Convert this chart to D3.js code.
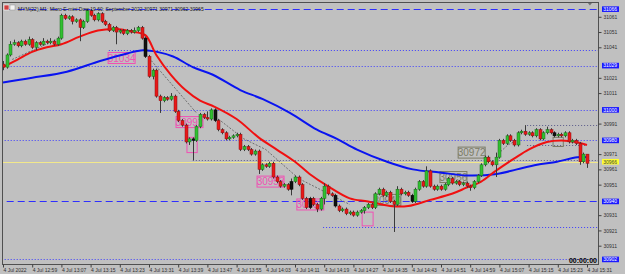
<!DOCTYPE html>
<html>
<head>
<meta charset="utf-8">
<script src="https://cdn.jsdelivr.net/npm/d3@7"></script>
<style>
    body { margin: 0; background: #c0c0c0; }
    svg { display: block; font-family: "Liberation Sans", Arial, sans-serif; }
</style>
</head>
<body>
<div class="canvas"></div>
<script>
// Data
const title = "MYM(22),M1: Micro E-mini Dow 19.60: September 2022  30971 30971 30962 30965";
const startTime = new Date(2022, 6, 4, 12, 51);

// one bar per minute from 12:51, [open, high, low, close]
const bars = [
    [31030,31032,31026,31028],[31028,31037,31027,31036],[31036,31045,31035,31043],[31043,31046,31042,31044],
    [31044,31045,31041,31042],[31042,31046,31041,31045],[31045,31046,31042,31043],[31043,31048,31042,31046],
    [31046,31047,31040,31041],[31041,31045,31039,31044],[31044,31045,31042,31043],[31043,31047,31042,31045],
    [31045,31046,31043,31044],[31044,31047,31043,31045],[31045,31046,31042,31043],[31043,31048,31042,31047],
    [31047,31063,31046,31062],[31062,31063,31059,31060],[31060,31062,31059,31061],[31061,31062,31056,31058],
    [31058,31060,31057,31059],[31059,31060,31045,31054],[31054,31059,31053,31058],[31058,31066,31057,31065],
    [31065,31066,31061,31062],[31062,31063,31058,31059],[31059,31064,31058,31063],[31063,31064,31057,31058],
    [31058,31059,31055,31056],[31056,31057,31051,31052],[31052,31055,31051,31054],[31054,31055,31043,31051],
    [31051,31053,31050,31052],[31052,31053,31049,31050],[31050,31053,31049,31052],[31052,31053,31050,31051],
    [31051,31054,31050,31052],[31052,31055,31051,31054],[31054,31055,31046,31047],[31047,31048,31034,31035],
    [31035,31036,31021,31022],[31022,31027,31020,31026],[31026,31027,31008,31009],[31009,31010,30998,31006],
    [31006,31009,31005,31008],[31008,31009,31006,31007],[31007,31011,31006,31009],[31009,31010,30998,30999],
    [30999,31000,30992,30993],[30993,30994,30989,30990],[30990,30991,30978,30979],[30979,30982,30977,30981],
    [30981,30982,30967,30980],[30980,30990,30979,30989],[30989,30998,30988,30997],[30997,30998,30994,30995],
    [30995,30999,30993,30994],[30994,31001,30993,31000],[31000,31001,30992,30993],[30993,30994,30986,30987],
    [30987,30988,30984,30985],[30985,30986,30980,30981],[30981,30983,30980,30982],[30982,30984,30981,30983],
    [30983,30985,30982,30984],[30984,30985,30973,30974],[30974,30977,30973,30976],[30976,30977,30973,30974],
    [30974,30975,30970,30971],[30971,30974,30970,30973],[30973,30974,30958,30961],[30961,30965,30960,30964],
    [30964,30965,30962,30963],[30963,30966,30962,30965],[30965,30966,30955,30956],[30956,30957,30952,30953],
    [30953,30954,30949,30950],[30950,30952,30949,30951],[30951,30952,30947,30948],[30948,30955,30944,30953],
    [30953,30957,30952,30956],[30956,30957,30950,30951],[30951,30952,30941,30942],[30942,30943,30935,30936],
    [30936,30943,30935,30942],[30942,30943,30937,30938],[30938,30939,30933,30935],[30935,30943,30934,30942],
    [30942,30952,30938,30950],[30950,30951,30944,30945],[30945,30946,30943,30944],[30944,30945,30936,30937],
    [30937,30938,30933,30934],[30934,30936,30933,30935],[30935,30936,30931,30932],[30932,30934,30931,30933],
    [30933,30934,30930,30931],[30931,30934,30930,30933],[30933,30935,30932,30934],[30934,30937,30932,30936],
    [30936,30939,30935,30938],[30938,30939,30935,30936],[30936,30946,30935,30945],[30945,30949,30944,30948],
    [30948,30949,30943,30944],[30944,30947,30943,30946],[30946,30947,30939,30940],[30940,30941,30920,30938],
    [30938,30950,30937,30948],[30948,30949,30944,30945],[30945,30947,30944,30946],[30946,30947,30943,30944],
    [30944,30945,30939,30940],[30940,30949,30939,30948],[30948,30954,30947,30953],[30953,30954,30949,30950],
    [30950,30963,30949,30960],[30960,30961,30949,30950],[30950,30951,30947,30948],[30948,30951,30947,30950],
    [30950,30951,30947,30948],[30948,30952,30947,30951],[30951,30956,30950,30955],[30955,30956,30951,30952],
    [30952,30954,30951,30953],[30953,30954,30950,30951],[30951,30953,30950,30952],[30952,30953,30949,30950],
    [30950,30951,30947,30949],[30949,30954,30948,30953],[30953,30958,30952,30957],[30957,30965,30956,30964],
    [30964,30970,30963,30969],[30969,30970,30965,30966],[30966,30967,30963,30964],[30964,30972,30956,30969],
    [30969,30981,30968,30980],[30980,30981,30977,30978],[30978,30984,30977,30983],[30983,30984,30979,30980],
    [30980,30981,30976,30977],[30977,30986,30976,30985],[30985,30987,30984,30986],[30986,30990,30983,30984],
    [30984,30986,30983,30985],[30985,30986,30982,30983],[30983,30988,30982,30987],[30987,30988,30980,30981],
    [30981,30986,30980,30985],[30985,30989,30984,30987],[30987,30988,30984,30985],[30985,30986,30982,30983],
    [30983,30985,30982,30984],[30984,30985,30982,30983],[30983,30986,30982,30985],[30985,30986,30978,30979],
    [30979,30981,30978,30980],[30980,30981,30977,30978],[30978,30979,30964,30966],[30966,30972,30965,30971],
    [30971,30971,30962,30965]
];
const darkBars = [39, 52, 58, 79, 84, 91, 112, 151];

// moving averages, [minute, price]
const redMA = [[0,31028],[4,31033],[8,31038],[12,31041],[16,31043],[21,31048],[26,31052],[31,31053],[36,31051],
    [39,31049],[42,31036],[46,31023],[50,31013],[54,31006],[58,31002],[64,30994],[70,30982],[75,30974],[80,30966],
    [84,30958],[89,30950],[95,30942],[100,30940],[106,30937],[111,30937],[117,30941],[123,30945],[127,30949],
    [131,30953],[135,30960],[140,30968],[144,30974],[149,30979],[153,30980],[157,30979],[160,30977]];
const blueMA = [[0,31018],[8,31021],[17.5,31025],[26.6,31032],[34,31037],[38.4,31039],[42.2,31038],[46.6,31035],
    [52,31028],[57.5,31023],[65,31013],[71.2,31007],[78.6,30998],[86,30987],[91.5,30981],[97,30974],[105.2,30966],
    [112.3,30961],[119.7,30959],[127,30957],[135.3,30958],[140.8,30961],[146.3,30964],[151.8,30966],[157.3,30969],[160.3,30969]];
const guides = [
    [[2.5,31033],[15.5,31047]],
    [[40,31034],[53,30998]],
    [[59,30994],[66,30981],[72,30974],[81,30955],[95,30938]],
    [[135.6,30971],[138.3,30977],[141.6,30981]]
];

// horizontal levels: [price, from minute, to minute]
const dashedLevels = [[31066, -2, 164], [30940, -2, 164]];
const dottedLevels = [[31039, 29, 164], [31029, -2, 164], [31000, -2, 164], [30980, -2, 164],
    [30923, 87.7, 164], [30902, -2, 164]];
const greyLevels = [[30967, 52, 164], [30990, 143.6, 164], [30977, 143.6, 160]];
const bidPrice = 30966;
const boxedPrices = [31066, 31029, 31000, 30980, 30940, 30902];

// price labels on the chart: [text, minute, price]
const pinkLabels = [["31034", 28.8, 31034], ["30992", 47.4, 30992], ["30953", 69.6, 30953], ["30938", 80.5, 30938]];
const greyLabels = [["30940", 101.6, 30941], ["30956", 119.7, 30956], ["30972", 124.7, 30972]];
// small boxes: [from minute, to minute, top price, bottom price]
const pinkBoxes = [[50.4, 53.2, 30982, 30972], [98.4, 101.4, 30933, 30924]];
const greyBoxes = [[150.7, 153.5, 30982, 30976]];

// ticks hidden behind the price boxes are left out
const priceTicks = [31061, 31051, 31041, 31021, 31011, 30991, 30971, 30961, 30951, 30931, 30921, 30911];
const timeTickLabels = ["4 Jul 2022", "4 Jul 12:59", "4 Jul 13:07", "4 Jul 13:15", "4 Jul 13:23", "4 Jul 13:31",
    "4 Jul 13:39", "4 Jul 13:47", "4 Jul 13:55", "4 Jul 14:03", "4 Jul 14:11", "4 Jul 14:19", "4 Jul 14:27",
    "4 Jul 14:35", "4 Jul 14:43", "4 Jul 14:51", "4 Jul 14:59", "4 Jul 15:07", "4 Jul 15:15", "4 Jul 15:23", "4 Jul 15:31"];

// Variables
const width = 625, height = 274;
const plot = { left: 2, top: 2, right: 598, bottom: 264 };
const minute = m => new Date(startTime.getTime() + m * 60000);

const svg = d3.select('.canvas')
    .append('svg')
    .attr('width', width)
    .attr('height', height);

svg.append('rect').attr('width', width).attr('height', height).attr('fill', '#c0c0c0');

const x = d3.scaleTime()
    .domain([minute(0), minute(160)])
    .range([3, 587]);
const y = d3.scaleLinear()
    .domain([30899, 31072])
    .range([plot.bottom, 0]);

svg.append('clipPath').attr('id', 'clip')
    .append('rect')
    .attr('x', plot.left).attr('y', plot.top)
    .attr('width', plot.right - plot.left).attr('height', plot.bottom - plot.top);

const g = svg.append('g').attr('clip-path', 'url(#clip)');

// levels
const levelLine = (sel, data, stroke, dash) => sel.selectAll(null)
    .data(data).enter().append('line')
    .attr('x1', d => x(minute(d[1]))).attr('x2', d => x(minute(d[2])))
    .attr('y1', d => Math.round(y(d[0])) + 0.5).attr('y2', d => Math.round(y(d[0])) + 0.5)
    .attr('stroke', stroke).attr('stroke-width', 1)
    .attr('stroke-dasharray', dash);

levelLine(g, dottedLevels, '#3c3cff', '1,2');
levelLine(g, greyLevels, '#5a5a8a', '1,2');
levelLine(g, dashedLevels, '#2e2eff', '7,4');
g.append('line')
    .attr('x1', plot.left).attr('x2', plot.right)
    .attr('y1', Math.round(y(bidPrice)) + 0.5).attr('y2', Math.round(y(bidPrice)) + 0.5)
    .attr('stroke', '#f2e88a').attr('stroke-width', 1);

// labels behind the candles
const labelBox = (data, color) => {
    const lg = g.selectAll(null).data(data).enter().append('g')
        .attr('transform', d => `translate(${x(minute(d[1]))},${y(d[2])})`);
    lg.append('rect')
        .attr('x', 0).attr('y', -5.5).attr('width', 27).attr('height', 11)
        .attr('fill', 'none').attr('stroke', color).attr('stroke-width', 1);
    lg.append('text')
        .attr('x', 13.5).attr('y', 3.6)
        .attr('text-anchor', 'middle')
        .style('font-size', '10px')
        .attr('fill', color)
        .text(d => d[0]);
};
labelBox(pinkLabels, '#f050b4');
labelBox(greyLabels, '#7c7c66');

const smallBox = (data, color) => g.selectAll(null).data(data).enter().append('rect')
    .attr('x', d => x(minute(d[0]))).attr('y', d => y(d[2]))
    .attr('width', d => x(minute(d[1])) - x(minute(d[0])))
    .attr('height', d => y(d[3]) - y(d[2]))
    .attr('fill', 'none').attr('stroke', color);
smallBox(pinkBoxes, '#f050b4');
smallBox(greyBoxes, '#7c7c66');

// moving averages
const maLine = d3.line()
    .x(d => x(minute(d[0])))
    .y(d => y(d[1]))
    .curve(d3.curveCatmullRom);

g.append('path').attr('d', maLine(blueMA))
    .attr('fill', 'none').attr('stroke', '#0a14f0').attr('stroke-width', 2);
g.append('path').attr('d', maLine(redMA))
    .attr('fill', 'none').attr('stroke', '#f01010').attr('stroke-width', 2);

g.selectAll(null).data(guides).enter().append('path')
    .attr('d', d3.line().x(d => x(minute(d[0]))).y(d => y(d[1])))
    .attr('fill', 'none').attr('stroke', '#4a4a4a').attr('stroke-width', 0.7)
    .attr('stroke-dasharray', '2,1.5');

// candles
const candle = g.selectAll('g.candle')
    .data(bars)
    .enter().append('g')
    .attr('class', 'candle');

candle.append('line')
    .attr('x1', (d, i) => Math.round(x(minute(i))) + 0.5)
    .attr('x2', (d, i) => Math.round(x(minute(i))) + 0.5)
    .attr('y1', d => y(d[1])).attr('y2', d => y(d[2]))
    .attr('stroke', '#3a3a3a').attr('stroke-width', 1);

candle.append('rect')
    .attr('x', (d, i) => Math.round(x(minute(i))) - 1)
    .attr('width', 3)
    .attr('y', d => y(Math.max(d[0], d[3])))
    .attr('height', d => Math.max(1, Math.abs(y(d[0]) - y(d[3]))))
    .attr('fill', (d, i) => darkBars.includes(i) ? '#111' : (d[3] >= d[0] ? '#30c030' : '#e81818'))
    .attr('stroke', (d, i) => darkBars.includes(i) ? '#000' : (d[3] >= d[0] ? '#1c6e1c' : '#8a1010'))
    .attr('stroke-width', 0.5);

// frame
svg.append('rect')
    .attr('x', plot.left + 0.5).attr('y', plot.top + 0.5)
    .attr('width', plot.right - plot.left).attr('height', plot.bottom - plot.top)
    .attr('fill', 'none').attr('stroke', '#505050');

// axes
const yAxis = svg.append('g')
    .attr('transform', `translate(${plot.right + 0.5},0)`)
    .call(d3.axisRight(y).tickValues(priceTicks).tickSize(3).tickPadding(2).tickFormat(d3.format('d')));
const xAxis = svg.append('g')
    .attr('transform', `translate(0,${plot.bottom + 0.5})`)
    .call(d3.axisBottom(x)
        .tickValues(timeTickLabels.map((t, i) => minute(i * 8)))
        .tickFormat((d, i) => timeTickLabels[i])
        .tickSize(3));

[yAxis, xAxis].forEach(a => {
    a.select('.domain').remove();
    a.selectAll('line').attr('stroke', '#404040');
    a.selectAll('text').attr('fill', '#303030').style('font-size', '5px').style('font-family', 'inherit');
});
xAxis.selectAll('text').attr('text-anchor', 'start').attr('dy', '0.2em').attr('dx', 0);

// price boxes on the axis
const boxes = svg.selectAll(null).data(boxedPrices.map(p => [p, '#1a1aff', '#ffffff']).concat([[bidPrice, '#ffff33', '#404040']]))
    .enter().append('g')
    .attr('transform', d => `translate(${plot.right + 4},${y(d[0])})`);
boxes.append('rect')
    .attr('x', 0).attr('y', -2.8).attr('width', 17).attr('height', 5.6)
    .attr('fill', d => d[1]);
boxes.append('text')
    .attr('x', 1.2).attr('y', 1.8)
    .style('font-size', '5px')
    .attr('fill', d => d[2])
    .text(d => d[0]);

// countdown box
svg.append('text')
    .attr('x', plot.right - 1).attr('y', plot.bottom - 1.5)
    .attr('text-anchor', 'end')
    .style('font-size', '7px').style('font-weight', 'bold')
    .attr('fill', '#000')
    .text('00:00:00');

// title and icons
svg.append('rect').attr('x', 4).attr('y', 5).attr('width', 5).attr('height', 5).attr('fill', '#d04040').attr('stroke', '#fff').attr('stroke-width', 0.6);
svg.append('rect').attr('x', 10).attr('y', 5).attr('width', 5).attr('height', 5).attr('fill', '#f4f4f4').attr('stroke', '#909090').attr('stroke-width', 0.5);
svg.append('text')
    .attr('x', 18).attr('y', 10.5)
    .style('font-size', '5px')
    .attr('fill', '#202020')
    .text(title);
svg.append('path')
    .attr('d', `M${x(minute(160.8)) - 2},3 h4 l-2,2.5 z`)
    .attr('fill', '#707070');
</script>
</body>
</html>
